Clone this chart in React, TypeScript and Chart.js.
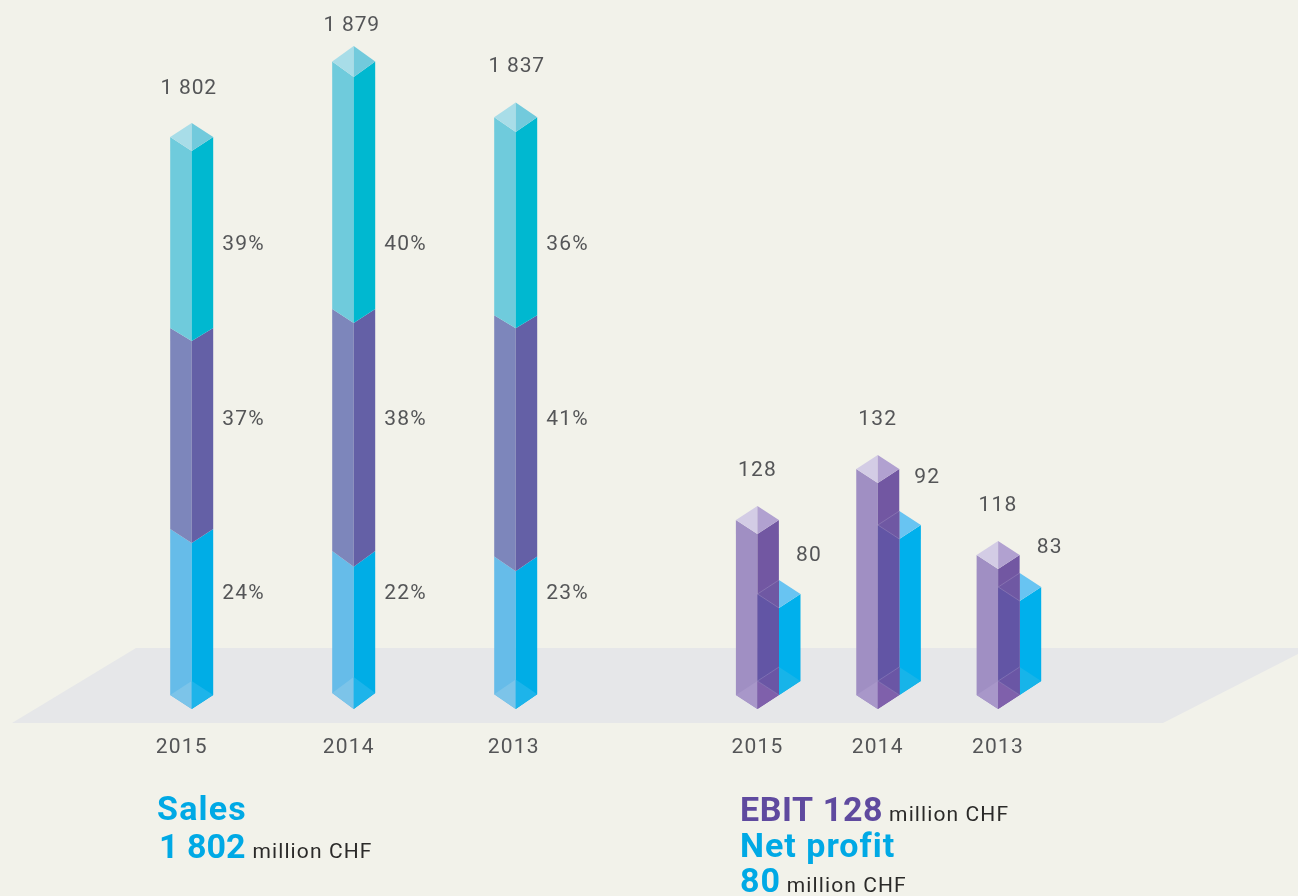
import React, { useEffect, useRef } from "react";
import { Chart, registerables } from "chart.js";

Chart.register(...registerables);

const salesYears = ["2015", "2014", "2013"];
const profitYears = ["2015", "2014", "2013"];
const salesTotals = ["1 802", "1 879", "1 837"];
const ebitTotals = ["128", "132", "118"];
const netTotals = ["80", "92", "83"];
const sharesBlue = ["24%", "22%", "23%"];
const sharesPurple = ["37%", "38%", "41%"];
const sharesTeal = ["39%", "40%", "36%"];

// Drawn heights of the bars (the source graphic is not to scale).
const salesBlue = [166, 142.3, 137.7];
const salesPurple = [202, 243.7, 243];
const salesTeal = [190, 246, 196.3];
const ebitDrawn = [175, 226, 140];
const netDrawn = [87, 156, 94];
const netLift = 14;

const BG = "#f2f2ea";
const INK = "#545557";
const FONT = "Roboto, sans-serif";
const DROP = 14; // half height of the isometric diamond

// Diamond half heights per sales column: cap, teal/purple joint, purple/blue joint, foot.
const salesCapDrop = [14, 15.5, 14.7];
const salesUpperJointDrop = [13, 14, 13];
const salesLowerJointDrop = [14, 15.7, 14.7];
const salesFootDrop = [14, 16, 14.7];

type Faces = { left?: string; right?: string; topL?: string; topR?: string; botL?: string; botR?: string };

const tealFaces: Faces = { left: "#6fcbdc", right: "#00b8d0", topL: "#a8dde8", topR: "#72cadc" };
const purpleFaces: Faces = { left: "#7d86bb", right: "#6460a6" };
const blueFaces: Faces = { left: "#66bce9", right: "#00ade6", botL: "#7cc4e9", botR: "#1db4ea" };
const ebitFaces: Faces = { left: "#a08fc3", right: "#7257a2", topL: "#d3cce5", topR: "#b1a1d0", botL: "#a897c9", botR: "#7f60ab" };
const netBackFaces: Faces = { right: "#00b0ec", topR: "#68c4f2", botR: "#17b4e9" };
const netFrontFaces: Faces = { left: "#6255a5", topL: "#6f58a3", botL: "#6a56a5" };

function poly(ctx: CanvasRenderingContext2D, pts: number[][], fill: string) {
  ctx.fillStyle = fill;
  ctx.beginPath();
  pts.forEach(([x, y], i) => (i ? ctx.lineTo(x, y) : ctx.moveTo(x, y)));
  ctx.closePath();
  ctx.fill();
}

function prism(ctx: CanvasRenderingContext2D, el: any, f: Faces, dTop = DROP, dBase = DROP, outline = false) {
  const cx = el.x, top = el.y, base = el.base, hw = el.width / 2;
  if (f.left) poly(ctx, [[cx - hw, base - dBase], [cx, base], [cx, top], [cx - hw, top - dTop]], f.left);
  if (f.right) poly(ctx, [[cx + hw, base - dBase], [cx, base], [cx, top], [cx + hw, top - dTop]], f.right);
  if (f.botL) poly(ctx, [[cx - hw, base - dBase], [cx, base], [cx, base - 2 * dBase]], f.botL);
  if (f.botR) poly(ctx, [[cx + hw, base - dBase], [cx, base], [cx, base - 2 * dBase]], f.botR);
  if (f.topL) poly(ctx, [[cx - hw, top - dTop], [cx, top], [cx, top - 2 * dTop]], f.topL);
  if (f.topR) poly(ctx, [[cx + hw, top - dTop], [cx, top], [cx, top - 2 * dTop]], f.topR);
  if (outline) {
    ctx.strokeStyle = "rgba(255,255,255,0.22)";
    ctx.lineWidth = 0.7;
    ctx.beginPath();
    ctx.moveTo(cx - hw, top - dTop); ctx.lineTo(cx, top - 2 * dTop);
    ctx.moveTo(cx - hw, top - dTop); ctx.lineTo(cx, top);
    ctx.moveTo(cx - hw, base - dBase); ctx.lineTo(cx, base - 2 * dBase);
    ctx.moveTo(cx - hw, base - dBase); ctx.lineTo(cx, base);
    ctx.stroke();
  }
}

function text(ctx: CanvasRenderingContext2D, s: string, x: number, y: number, font: string, color: string, align: CanvasTextAlign = "left", spacing = "0px") {
  ctx.font = font;
  ctx.fillStyle = color;
  ctx.textAlign = align;
  ctx.textBaseline = "alphabetic";
  (ctx as any).letterSpacing = spacing;
  ctx.fillText(s, x, y);
  const w = ctx.measureText(s).width;
  (ctx as any).letterSpacing = "0px";
  return w;
}

const floorPts = [[136, 648], [1310, 648], [1163, 723], [12, 723]];

const stage = {
  id: "stage",
  beforeDraw(chart: any) {
    const { ctx, width, height } = chart;
    ctx.save();
    ctx.fillStyle = BG;
    ctx.fillRect(0, 0, width, height);
    ctx.restore();
  },
  beforeDatasetsDraw(chart: any) {
    const ctx: CanvasRenderingContext2D = chart.ctx;
    const meta = (i: number) => chart.getDatasetMeta(i).data;
    ctx.save();
    poly(ctx, floorPts, "#e6e7e9");
    [0, 1, 2].forEach((j) => {
      prism(ctx, meta(0)[j], blueFaces, salesLowerJointDrop[j], salesFootDrop[j]);
      prism(ctx, meta(1)[j], purpleFaces, salesUpperJointDrop[j], salesLowerJointDrop[j]);
      prism(ctx, meta(2)[j], tealFaces, salesCapDrop[j], salesUpperJointDrop[j]);
    });
    [0, 1, 2].forEach((j) => {
      prism(ctx, meta(4)[j], netBackFaces);
      prism(ctx, meta(3)[j], ebitFaces);
      prism(ctx, meta(4)[j], netFrontFaces, DROP, DROP, true);
    });
    ctx.restore();
  },
  afterDatasetsDraw(chart: any) {
    const ctx: CanvasRenderingContext2D = chart.ctx;
    const meta = (i: number) => chart.getDatasetMeta(i).data;
    const small = `400 21px ${FONT}`;
    const sp = "1.2px";
    ctx.save();
    const totalNudge = [[-3, -29], [-2, -15], [1, -31]];
    const tickNudge = [-10, -5, -2];
    salesYears.forEach((y, j) => {
      const top = meta(2)[j];
      const apex = top.y - 2 * salesCapDrop[j];
      text(ctx, salesTotals[j], top.x + totalNudge[j][0], apex + totalNudge[j][1], small, INK, "center", "0.8px");
      text(ctx, y, meta(0)[j].x + tickNudge[j], 753, small, INK, "center", sp);
      const lx = meta(0)[j].x + 30.5;
      text(ctx, sharesTeal[j], lx, 250, small, INK, "left", sp);
      text(ctx, sharesPurple[j], lx, 425, small, INK, "left", sp);
      text(ctx, sharesBlue[j], lx, 599, small, INK, "left", sp);
    });
    const netNudge = [[30, -19], [28, -28], [30, -20]];
    profitYears.forEach((y, j) => {
      const e = meta(3)[j], n = meta(4)[j];
      text(ctx, ebitTotals[j], e.x, e.y - 2 * DROP - 30, small, INK, "center", sp);
      text(ctx, y, e.x, 753, small, INK, "center", sp);
      text(ctx, netTotals[j], n.x + netNudge[j][0], n.y - 2 * DROP + netNudge[j][1], small, INK, "center", sp);
    });
    const big = `700 34px ${FONT}`;
    const unit = `400 21px ${FONT}`;
    const blue = "#00a9e5";
    const violet = "#5f4a9f";
    const usp = "1.1px";
    text(ctx, "Sales", 157, 820, big, blue, "left", "1.2px");
    let w = text(ctx, "1 802", 159, 858, big, blue, "left", "0px");
    text(ctx, "million CHF", 159 + w + 7, 858, unit, "#2b2a29", "left", usp);
    w = text(ctx, "EBIT 128", 740, 821, big, violet, "left", "0.6px");
    text(ctx, "million CHF", 740 + w + 6, 821, unit, "#2b2a29", "left", usp);
    text(ctx, "Net profit", 740, 857, big, blue, "left", "1px");
    w = text(ctx, "80", 740, 892, big, blue, "left", "0.9px");
    text(ctx, "million CHF", 740 + w + 6, 892, unit, "#2b2a29", "left", usp);
    ctx.restore();
  },
};

export default function App() {
  const ref = useRef<HTMLCanvasElement>(null);
  useEffect(() => {
    document.body.style.margin = "0";
    document.body.style.background = BG;
    document.body.style.overflow = "hidden";
    const clear = "rgba(0,0,0,0)";
    const stack = (vals: number[], below: number[]) => vals.map((v, i) => ({ x: i, y: [below[i], below[i] + v] }));
    const zero = salesBlue.map(() => 0);
    const b2 = salesBlue;
    const b3 = salesBlue.map((v, i) => v + salesPurple[i]);
    const lift = netDrawn.map(() => netLift);
    const bar = { backgroundColor: clear, borderWidth: 0, barThickness: 43, grouped: false };
    const chart = new Chart(ref.current as HTMLCanvasElement, {
      type: "bar",
      data: {
        datasets: [
          { label: "Sales 24%", data: stack(salesBlue, zero), xAxisID: "xSales", ...bar },
          { label: "Sales 37%", data: stack(salesPurple, b2), xAxisID: "xSales", ...bar },
          { label: "Sales 39%", data: stack(salesTeal, b3), xAxisID: "xSales", ...bar },
          { label: "EBIT", data: stack(ebitDrawn, zero), xAxisID: "xEbit", ...bar },
          { label: "Net profit", data: stack(netDrawn, lift), xAxisID: "xNet", ...bar },
        ] as any,
      },
      options: {
        animation: false,
        responsive: false,
        layout: { padding: { top: 0, left: 0, right: 0, bottom: 187 } },
        plugins: { legend: { display: false }, tooltip: { enabled: false } },
        scales: {
          y: { type: "linear", display: false, min: 0, max: 709 },
          xSales: { type: "linear", offset: false, display: false, min: -191.7 / 162, max: (1298 - 191.7) / 162 },
          xEbit: { type: "linear", offset: false, display: false, min: -757.4 / 120.35, max: (1298 - 757.4) / 120.35 },
          xNet: { type: "linear", offset: false, display: false, min: -779 / 120.35, max: (1298 - 779) / 120.35 },
        },
      } as any,
      plugins: [stage],
    });
    return () => chart.destroy();
  }, []);
  return <canvas ref={ref} width={1298} height={896} style={{ display: "block" }} />;
}
